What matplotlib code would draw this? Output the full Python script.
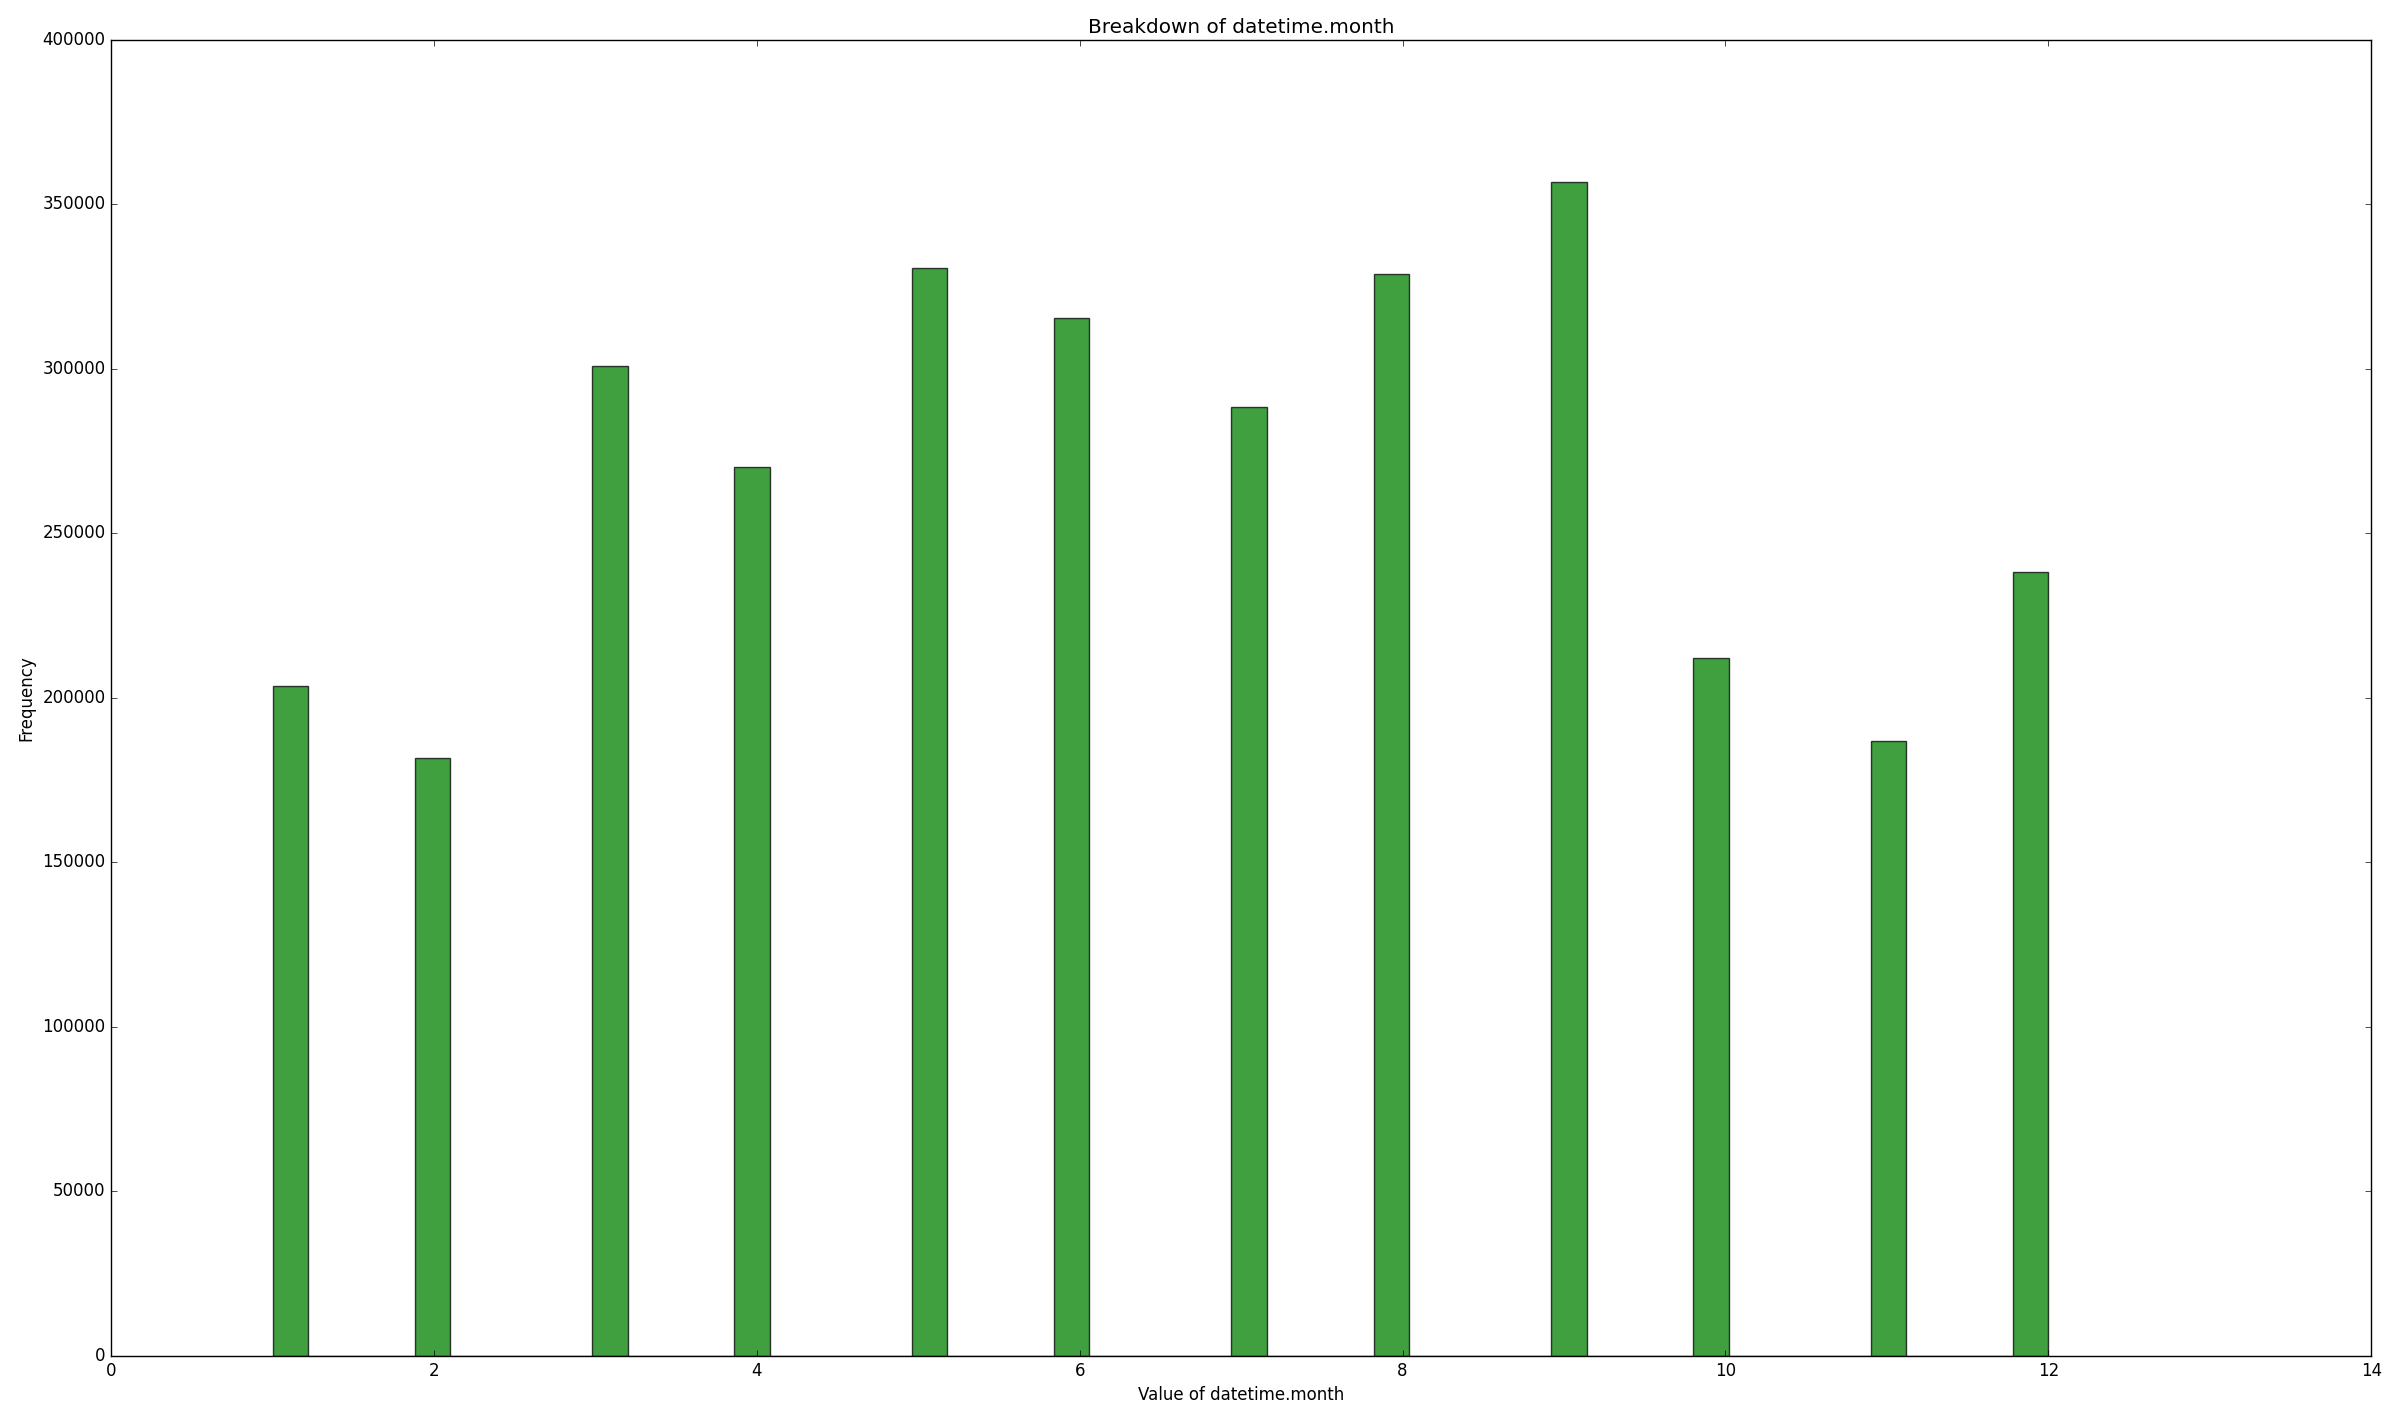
import matplotlib
matplotlib.use("Agg")
import matplotlib.pyplot as plt

plt.style.use("classic")

# month value and how many records fell in that month
months = [1, 2, 3, 4, 5, 6, 7, 8, 9, 10, 11, 12]
counts = [203500, 181800, 300900, 270200, 330700, 315300,
          288400, 328900, 356800, 212200, 187000, 238200]

fig = plt.figure(figsize=(24, 14.2), dpi=100)
ax = fig.add_axes([0.0463, 0.0451, 0.9417, 0.927])

# same binning as a default 50 bin histogram of the month column
ax.hist(months, bins=50, weights=counts, color="g", alpha=0.75)

ax.set_xlim(0, 14)
ax.set_ylim(0, 400000)
ax.set_title("Breakdown of datetime.month")
ax.set_xlabel("Value of datetime.month")
ax.set_ylabel("Frequency")

fig.savefig("out.png", dpi=100)
